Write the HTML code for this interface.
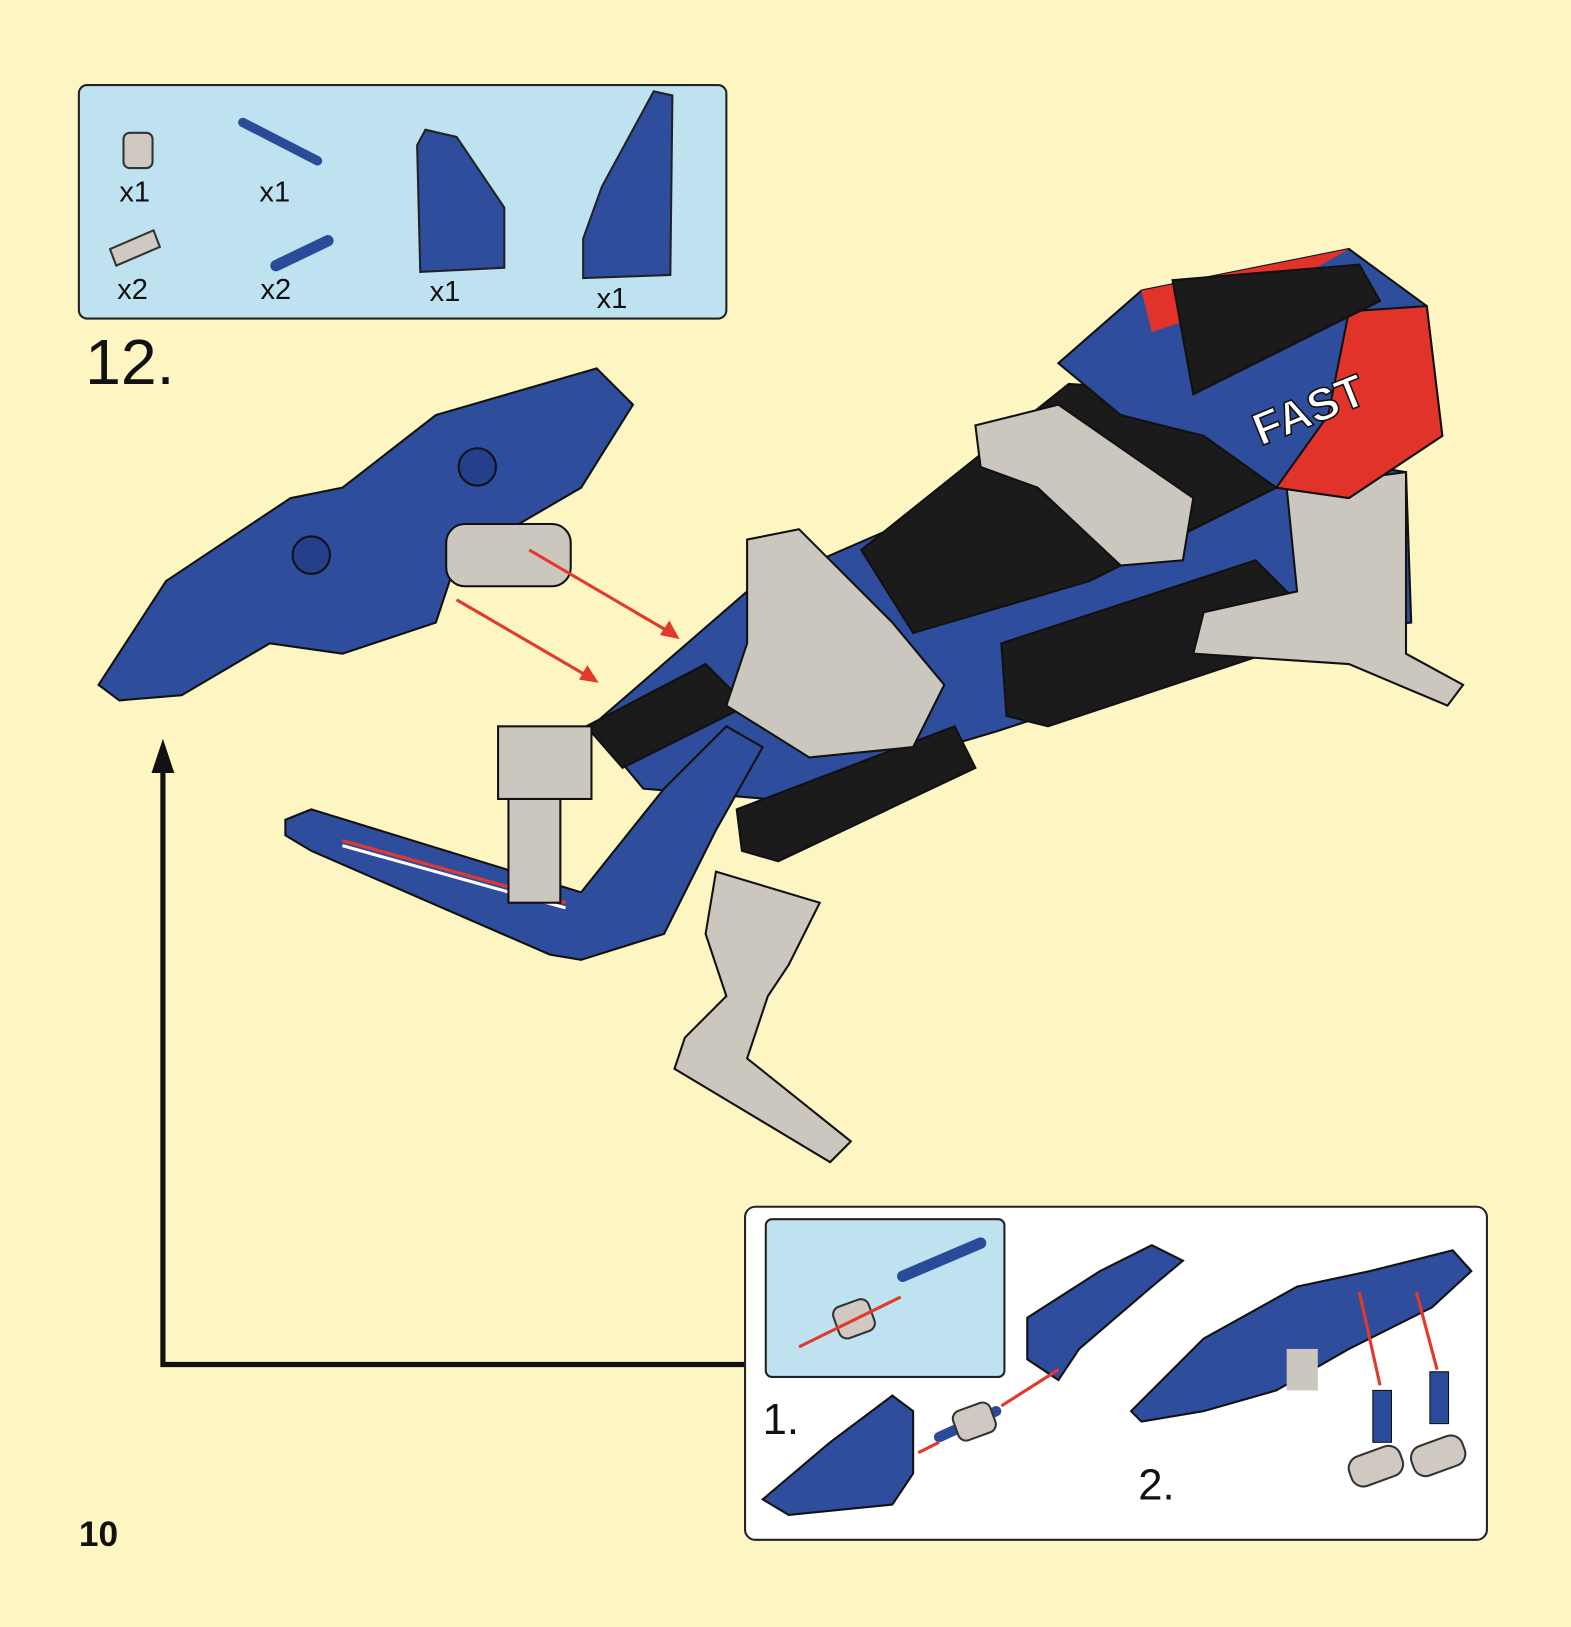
<!DOCTYPE html>
<html><head><meta charset="utf-8"><style>
html,body{margin:0;padding:0;background:#fdf6c2;}
svg{display:block}
text{font-family:"Liberation Sans","DejaVu Sans",sans-serif}
</style></head><body>
<svg width="1571" height="1627" viewBox="0 0 1514 1568" xmlns="http://www.w3.org/2000/svg">
<rect width="1514" height="1568" fill="#fdf6c2"/>
<!-- parts box -->
<rect x="76" y="82" width="624" height="225" rx="8" fill="#bfe2f1" stroke="#222" stroke-width="2"/>
<rect x="119" y="128" width="28" height="34" rx="6" fill="#cfc9c1" stroke="#333" stroke-width="2"/>
<text x="115" y="194" font-size="28" fill="#111">x1</text>
<path d="M234 118 L306 155" stroke="#2a4a9a" stroke-width="9" stroke-linecap="round"/>
<text x="250" y="194" font-size="28" fill="#111">x1</text>
<path d="M106 240 L148 222 L154 238 L112 256Z" fill="#cfc9c1" stroke="#333" stroke-width="2"/>
<text x="113" y="288" font-size="28" fill="#111">x2</text>
<path d="M266 256 L316 232" stroke="#2a4a9a" stroke-width="11" stroke-linecap="round"/>
<text x="251" y="288" font-size="28" fill="#111">x2</text>
<path d="M402 140 L410 125 L440 132 L486 200 L486 258 L405 262 Z" fill="#2e4d9c" stroke="#222" stroke-width="2"/>
<text x="414" y="290" font-size="28" fill="#111">x1</text>
<path d="M580 180 L630 88 L648 92 L646 265 L562 268 L562 230 Z" fill="#2e4d9c" stroke="#222" stroke-width="2"/>
<text x="575" y="297" font-size="28" fill="#111">x1</text>
<text x="82" y="370" font-size="62" fill="#111">12.</text>
<!-- model: left blue piece -->
<path d="M95 660 L160 560 L280 480 L330 470 L420 400 L575 355 L610 390 L560 470 L440 540 L420 600 L330 630 L260 620 L175 670 L115 675 Z" fill="#2e4d9c" stroke="#111" stroke-width="2"/>
<circle cx="300" cy="535" r="18" fill="#24408a" stroke="#111" stroke-width="2"/>
<circle cx="460" cy="450" r="18" fill="#24408a" stroke="#111" stroke-width="2"/>
<rect x="430" y="505" width="120" height="60" rx="18" fill="#cbc6be" stroke="#111" stroke-width="2"/>
<!-- red arrows -->
<path d="M510 530 L650 612 M440 578 L572 655" stroke="#e23a2a" stroke-width="3"/>
<path d="M655 616 L636 612 L645 598Z M577 658 L558 655 L566 641Z" fill="#e23a2a"/>
<!-- main body -->
<path d="M570 700 L720 570 L950 470 L1200 430 L1355 455 L1360 600 L1250 610 L960 705 L740 770 L620 760 Z" fill="#2e4d9c" stroke="#111" stroke-width="2"/>
<path d="M830 530 L1030 370 L1180 380 L1230 470 L1050 560 L880 610 Z" fill="#1b1b1b" stroke="#111" stroke-width="2"/>
<path d="M965 620 L1210 540 L1250 580 L1250 620 L1010 700 L970 690 Z" fill="#1b1b1b" stroke="#111" stroke-width="2"/>
<path d="M565 700 L680 640 L720 680 L600 740 Z" fill="#1b1b1b" stroke="#111" stroke-width="2"/>
<path d="M710 780 L920 700 L940 740 L750 830 L715 820 Z" fill="#1b1b1b" stroke="#111" stroke-width="2"/>
<path d="M940 410 L1020 390 L1150 480 L1140 540 L1080 545 L1000 470 L945 450 Z" fill="#cbc6be" stroke="#111" stroke-width="2"/>
<path d="M720 520 L770 510 L860 600 L910 660 L880 720 L780 730 L700 680 L720 620 Z" fill="#cbc6be" stroke="#111" stroke-width="2"/>
<path d="M1240 470 L1355 455 L1355 630 L1410 660 L1395 680 L1300 640 L1150 630 L1160 590 L1250 570 Z" fill="#cbc6be" stroke="#111" stroke-width="2"/>
<!-- red/blue nose -->
<path d="M1020 350 L1100 280 L1300 240 L1375 295 L1390 420 L1300 480 L1230 470 L1160 420 L1080 400 Z" fill="#2e4d9c" stroke="#111" stroke-width="2"/>
<path d="M1100 280 L1300 240 L1230 280 L1110 320 Z" fill="#e2332b"/>
<path d="M1300 300 L1375 295 L1390 420 L1300 480 L1230 470 L1280 400 Z" fill="#e2332b" stroke="#111" stroke-width="2"/>
<path d="M1130 270 L1310 255 L1330 290 L1150 380 Z" fill="#1b1b1b" stroke="#111" stroke-width="2"/>
<text x="1215" y="430" font-size="44" font-weight="bold" fill="#fff" stroke="#111" stroke-width="1.5" transform="rotate(-22 1215 430)">FAST</text>
<!-- lower left arm -->
<path d="M275 790 L300 780 L560 860 L640 760 L700 700 L735 720 L690 800 L640 900 L560 925 L530 920 L300 820 L275 805 Z" fill="#2e4d9c" stroke="#111" stroke-width="2"/>
<path d="M330 810 L545 870" stroke="#e23a2a" stroke-width="3"/><path d="M330 815 L545 875" stroke="#fff" stroke-width="3"/>
<rect x="480" y="700" width="90" height="70" fill="#cbc6be" stroke="#111" stroke-width="2"/>
<rect x="490" y="770" width="50" height="100" fill="#cbc6be" stroke="#111" stroke-width="2"/>
<path d="M690 840 L790 870 L760 930 L740 960 L720 1020 L820 1100 L800 1120 L700 1060 L650 1030 L660 1000 L700 960 L680 900 Z" fill="#cbc6be" stroke="#111" stroke-width="2"/>
<!-- black L arrow -->
<path d="M718 1315 L157 1315 L157 735" fill="none" stroke="#111" stroke-width="5"/>
<path d="M146 745 L157 712 L168 745 Z" fill="#111"/>
<!-- sub box -->
<rect x="718" y="1163" width="715" height="321" rx="10" fill="#fff" stroke="#222" stroke-width="2"/>
<rect x="738" y="1175" width="230" height="152" rx="6" fill="#bfe2f1" stroke="#222" stroke-width="2"/>
<path d="M870 1230 L945 1198" stroke="#2a4a9a" stroke-width="11" stroke-linecap="round"/>
<rect x="805" y="1255" width="36" height="32" rx="8" fill="#cfc9c1" stroke="#333" stroke-width="2" transform="rotate(-20 823 1271)"/>
<path d="M770 1298 L868 1250" stroke="#e23a2a" stroke-width="3"/>
<path d="M990 1270 L1060 1225 L1110 1200 L1140 1215 L1110 1240 L1040 1300 L1020 1330 L990 1310 Z" fill="#2e4d9c" stroke="#111" stroke-width="2"/>
<path d="M735 1445 L800 1390 L860 1345 L880 1360 L880 1420 L860 1450 L760 1460 Z" fill="#2e4d9c" stroke="#111" stroke-width="2"/>
<path d="M905 1385 L960 1360" stroke="#2a4a9a" stroke-width="10" stroke-linecap="round"/>
<rect x="920" y="1355" width="38" height="30" rx="8" fill="#cfc9c1" stroke="#333" stroke-width="2" transform="rotate(-20 939 1370)"/>
<path d="M885 1400 L905 1390 M965 1355 L1020 1320" stroke="#e23a2a" stroke-width="3"/>
<text x="735" y="1382" font-size="42" fill="#111">1.</text>
<path d="M1090 1360 L1160 1290 L1250 1240 L1320 1225 L1400 1205 L1418 1225 L1380 1260 L1300 1300 L1230 1340 L1160 1360 L1100 1370 Z" fill="#2e4d9c" stroke="#111" stroke-width="2"/>
<rect x="1240" y="1300" width="30" height="40" fill="#cbc6be"/>
<path d="M1310 1245 L1330 1335 M1365 1245 L1385 1320" stroke="#e23a2a" stroke-width="3"/>
<rect x="1323" y="1340" width="18" height="50" fill="#2a4a9a" stroke="#111"/>
<rect x="1378" y="1322" width="18" height="50" fill="#2a4a9a" stroke="#111"/>
<rect x="1300" y="1398" width="52" height="30" rx="12" fill="#cfc9c1" stroke="#333" stroke-width="2" transform="rotate(-20 1326 1413)"/>
<rect x="1360" y="1388" width="52" height="30" rx="12" fill="#cfc9c1" stroke="#333" stroke-width="2" transform="rotate(-20 1386 1403)"/>
<text x="1097" y="1445" font-size="42" fill="#111">2.</text>
<text x="76" y="1490" font-size="34" font-weight="bold" fill="#111">10</text>
</svg>
</body></html>
